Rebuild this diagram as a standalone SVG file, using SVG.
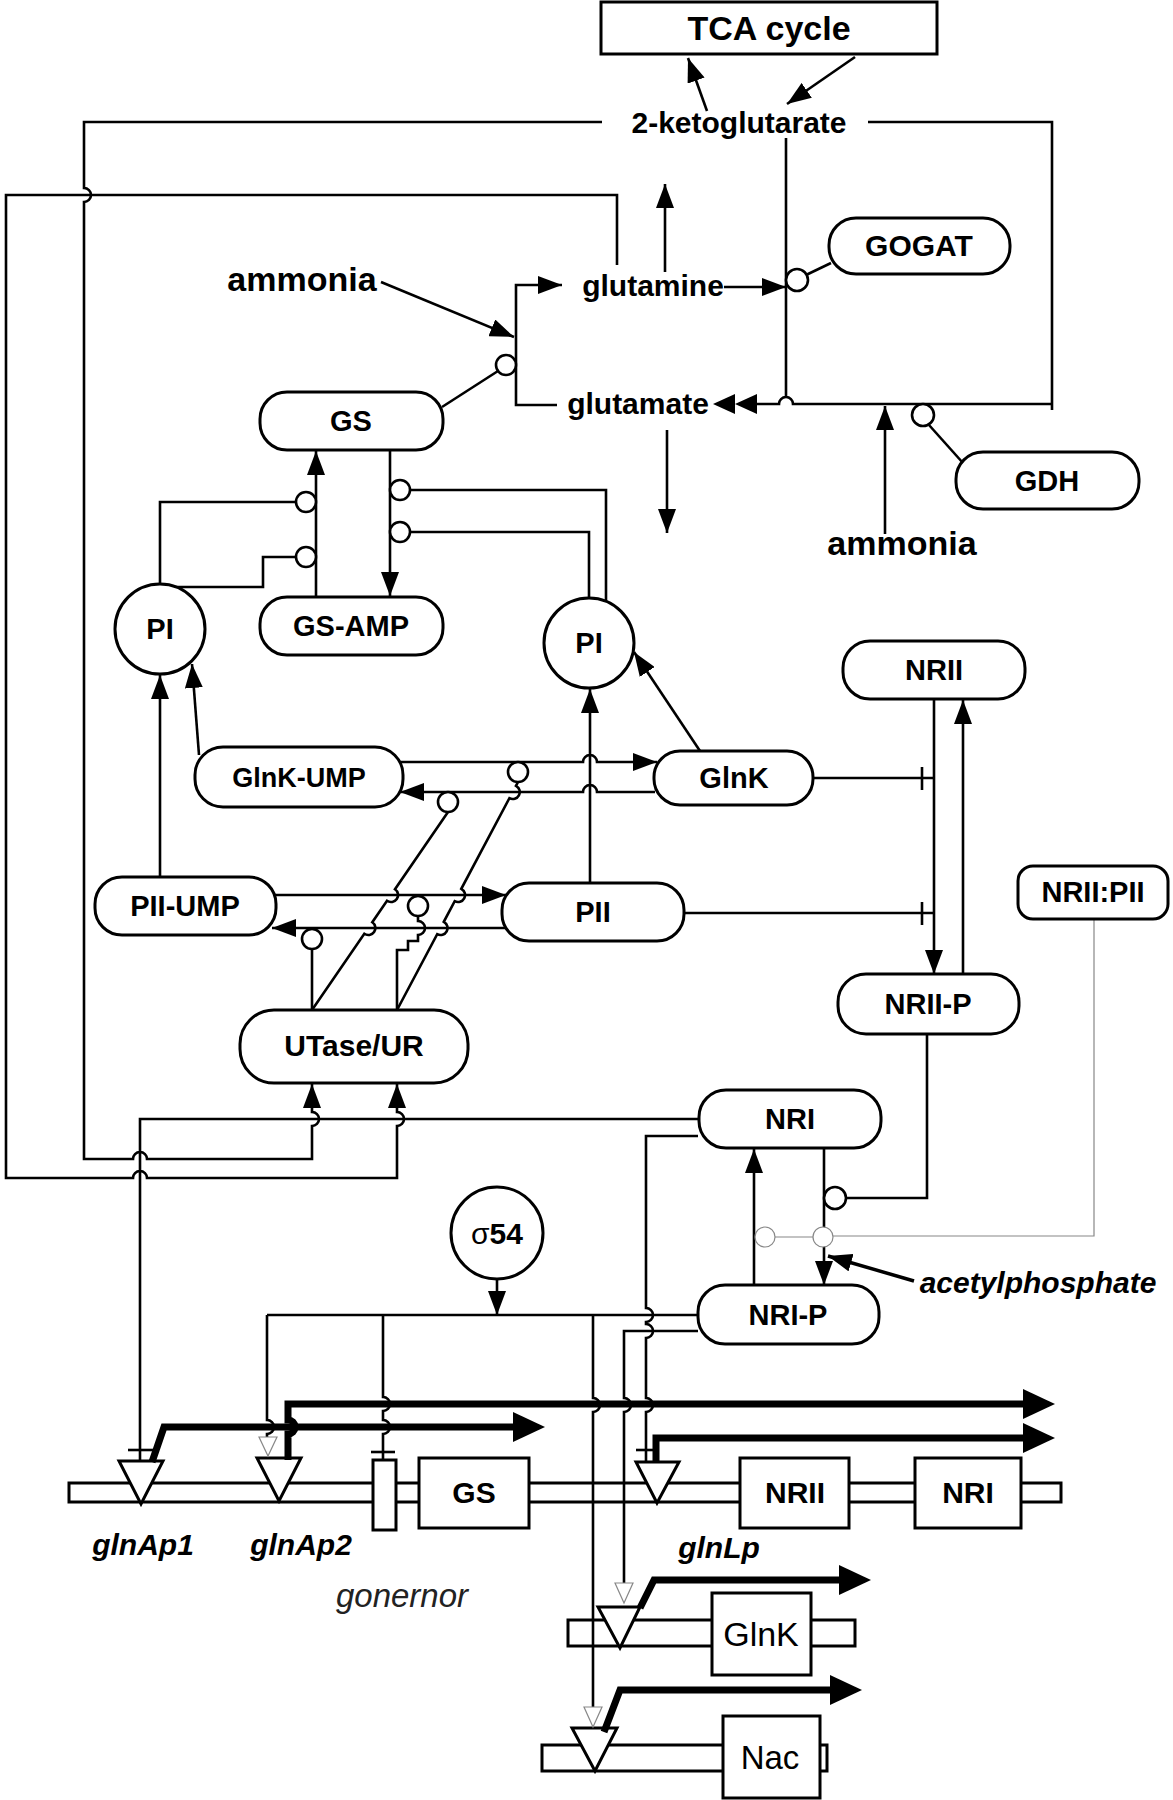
<svg xmlns="http://www.w3.org/2000/svg" width="1173" height="1800" viewBox="0 0 1173 1800">
<style>
.n{fill:#fff;stroke:#000;stroke-width:3}
.t{font-family:"Liberation Sans",Arial,sans-serif;font-weight:bold;font-size:29px;text-anchor:middle;fill:#000}
.r{font-family:"Liberation Sans",Arial,sans-serif;font-size:33px;text-anchor:middle;fill:#000}
.l{fill:none;stroke:#000;stroke-width:2.6}
.a{marker-end:url(#ah)}
.k{fill:none;stroke:#000;stroke-width:7;marker-end:url(#ak)}
.g{fill:#fff;stroke:#888;stroke-width:1.2}
.gl{fill:none;stroke:#888;stroke-width:1.2}
.c{fill:#fff;stroke:#000;stroke-width:2.6}
</style>
<defs>
<marker id="ah" viewBox="0 0 24 18" refX="24" refY="9" markerWidth="24" markerHeight="18" orient="auto" markerUnits="userSpaceOnUse"><path d="M0,0L24,9L0,18z"/></marker>
<marker id="ak" viewBox="0 0 32 30" refX="1" refY="15" markerWidth="32" markerHeight="30" orient="auto" markerUnits="userSpaceOnUse"><path d="M0,0L32,15L0,30z"/></marker>
</defs>
<rect width="1173" height="1800" fill="#fff"/>

<g id="genes">
<rect class="n" x="69" y="1483" width="992" height="19"/>
<rect class="n" x="373" y="1460" width="23" height="70"/>
<rect class="n" x="419" y="1458" width="110" height="70"/>
<text class="t" x="474" y="1503" style="font-size:30px">GS</text>
<rect class="n" x="740" y="1458" width="109" height="70"/>
<text class="t" x="795" y="1503" style="font-size:30px">NRII</text>
<rect class="n" x="915" y="1458" width="106" height="70"/>
<text class="t" x="968" y="1503" style="font-size:30px">NRI</text>
<polygon class="n" points="119,1461 163,1461 141,1504"/>
<polygon class="n" points="257,1458 301,1458 279,1501"/>
<polygon class="n" points="636,1462 679,1462 657,1503"/>
<rect class="n" x="568" y="1620" width="287" height="26"/>
<rect class="n" x="712" y="1593" width="99" height="82"/>
<text class="r" x="761" y="1646" style="font-size:34px">GlnK</text>
<polygon class="n" points="598,1607 640,1607 620,1648"/>
<rect class="n" x="542" y="1745" width="285" height="26"/>
<rect class="n" x="723" y="1716" width="97" height="82"/>
<text class="r" x="770" y="1769">Nac</text>
<polygon class="n" points="572,1728 617,1728 595,1771"/>
<text class="t" x="143" y="1555" style="font-size:30px;font-style:italic">glnAp1</text>
<text class="t" x="301" y="1555" style="font-size:30px;font-style:italic">glnAp2</text>
<text class="t" x="719" y="1558" style="font-size:30px;font-style:italic">glnLp</text>
<text class="r" x="402" y="1607" style="font-style:italic;fill:#222">gonernor</text>
</g>

<g id="connectors">
<path class="l a" d="M707,111 L688,58"/>
<path class="l a" d="M855,57 L787,104"/>
<path class="l" d="M868,122 H1052 V410"/>
<path class="l" d="M786,138 V397"/>
<path class="l" d="M1052,404 H793 A7,7 0 0 0 779,404 H757"/>
<polygon points="713,404 735,394 735,414"/>
<polygon points="735,404 757,394 757,414"/>
<path class="l a" d="M885,534 V406"/>
<path class="l" d="M929,425 L963,463"/>
<circle class="c" cx="923" cy="415" r="11"/>
<path class="l a" d="M724,287 H786"/>
<path class="l" d="M806,275 L831,263"/>
<circle class="c" cx="797" cy="280" r="11"/>
<path class="l a" d="M665,272 V184"/>
<path class="l a" d="M667,430 V533"/>
<path class="l a" d="M557,405 H516 V285 H562"/>
<path class="l a" d="M381,282 L514,337"/>
<path class="l" d="M442,407 L498,371"/>
<circle class="c" cx="506" cy="365" r="10"/>

<path class="l a" d="M602,122 H84 V188 A7,7 0 0 1 84,202 V1159 H133 A7,7 0 0 1 147,1159 H312 V1126 A7,7 0 0 0 312,1112 V1084"/>
<path class="l a" d="M617,265 V195 H6 V1178 H133 A7,7 0 0 1 147,1178 H397 V1126 A7,7 0 0 0 397,1112 V1084"/>

<path class="l a" d="M316,597 V451"/>
<path class="l a" d="M390,450 V596"/>
<path class="l" d="M160,584 V502 H296"/>
<path class="l" d="M174,587 H263 V557 H296"/>
<path class="l" d="M589,598 V532 H410"/>
<path class="l" d="M606,602 V490 H410"/>
<circle class="c" cx="306" cy="502" r="10"/>
<circle class="c" cx="306" cy="557" r="10"/>
<circle class="c" cx="400" cy="490" r="10"/>
<circle class="c" cx="400" cy="532" r="10"/>

<path class="l a" d="M160,877 V675"/>
<path class="l a" d="M199,755 L192,664"/>
<path class="l a" d="M700,751 L634,652"/>
<path class="l a" d="M590,883 V689"/>

<path class="l a" d="M398,762 H583 A7,7 0 0 1 597,762 H657"/>
<path class="l a" d="M655,792 H597 A7,7 0 0 0 583,792 H400"/>
<circle class="c" cx="518" cy="772" r="10"/>
<circle class="c" cx="448" cy="802" r="10"/>

<path class="l a" d="M274,895 H506"/>
<path class="l a" d="M506,928 H272"/>
<path class="l" d="M312,1010 V949"/>
<path class="l" d="M312,1010 L364.3,933.8 A7,7 0 0 0 372.3,922.2 L387,900.8 A7,7 0 0 0 395,889.2 L448,812"/>
<path class="l" d="M397,1010 V950 H408 V941 H418 V935 A7,7 0 0 0 418,921 V916"/>
<path class="l" d="M397,1010 L437.2,934.2 A7,7 0 0 0 443.8,921.8 L454.7,901.2 A7,7 0 0 0 461.3,888.8 L509.4,798.2 A7,7 0 0 0 516,785.8 L518,782"/>
<circle class="c" cx="418" cy="906" r="10"/>
<circle class="c" cx="312" cy="939" r="10"/>

<path class="l" d="M813,778 H934"/>
<path class="l" d="M922,767 V790"/>
<path class="l" d="M684,913 H934"/>
<path class="l" d="M922,902 V925"/>
<path class="l a" d="M934,699 V974"/>
<path class="l a" d="M963,974 V700"/>

<path class="gl" d="M1094,919 V1236 H833"/>
<path class="gl" d="M775,1237 H813"/>
<path class="l" d="M927,1034 V1198 H846"/>
<path class="l a" d="M824,1148 V1285"/>
<path class="l a" d="M754,1285 V1149"/>
<circle class="c" cx="835" cy="1198" r="11"/>
<circle class="g" cx="765" cy="1237" r="10"/>
<circle class="g" cx="823" cy="1237" r="10"/>
<path class="l a" d="M914,1281 L828,1256" style="stroke-width:3.5"/>

<path class="l" d="M698,1119 H140 V1461"/>
<path class="l" d="M128,1450 H154"/>
<path class="l a" d="M497,1279 V1315"/>
<path class="l" d="M267,1315 H697"/>
<path class="l" d="M267,1315 V1420 A7,7 0 0 1 267,1434 V1437"/>
<polygon class="g" points="259,1437 277,1437 268,1456"/>
<path class="l" d="M383,1315 V1397 A7,7 0 0 1 383,1411 V1420 A7,7 0 0 1 383,1434 V1460"/>
<path class="l" d="M371,1452 H395"/>
<path class="l" d="M593,1315 V1398 A7,7 0 0 1 593,1412 V1707"/>
<polygon class="g" points="584,1707 602,1707 593,1727"/>
<path class="l" d="M698,1136 H646 V1308 A7,7 0 0 1 646,1322 V1324 A7,7 0 0 1 646,1338 V1398 A7,7 0 0 1 646,1412 V1462"/>
<path class="l" d="M636,1450 H656"/>
<path class="l" d="M698,1331 H624 V1398 A7,7 0 0 1 624,1412 V1583"/>
<polygon class="g" points="615,1583 633,1583 624,1603"/>

<path class="k" d="M152,1462 L164,1427 H514"/>
<path class="k" d="M288,1460 V1434 A7,7 0 0 0 288,1420 V1404 H1024"/>
<path class="k" d="M656,1462 V1438 H1024"/>
<path class="k" d="M640,1608 L654,1580 H840"/>
<path class="k" d="M604,1732 L620,1690 H831"/>
</g>

<g id="tca"><rect class="n" x="601" y="2" width="336" height="52"/><text class="t" x="769" y="40" style="font-size:34px">TCA cycle</text></g>
<g id="ketoglutarate"><text class="t" x="739" y="133" style="font-size:30px">2-ketoglutarate</text></g>
<g id="glutamine"><text class="t" x="653" y="296" style="font-size:30px">glutamine</text></g>
<g id="glutamate"><text class="t" x="638" y="414" style="font-size:30px">glutamate</text></g>
<g id="ammonia1"><text class="t" x="302" y="291" style="font-size:34px">ammonia</text></g>
<g id="ammonia2"><text class="t" x="902" y="555" style="font-size:34px">ammonia</text></g>
<g id="acetylphosphate"><text class="t" x="1038" y="1293" style="font-size:30px;font-style:italic">acetylphosphate</text></g>

<g id="gogat"><rect class="n" x="829" y="218" width="181" height="56" rx="27"/><text class="t" x="919" y="256" style="font-size:30px">GOGAT</text></g>
<g id="gdh"><rect class="n" x="956" y="452" width="183" height="57" rx="27"/><text class="t" x="1047" y="491">GDH</text></g>
<g id="gs"><rect class="n" x="260" y="392" width="183" height="58" rx="27"/><text class="t" x="351" y="431">GS</text></g>
<g id="gsamp"><rect class="n" x="260" y="597" width="183" height="58" rx="27"/><text class="t" x="351" y="636">GS-AMP</text></g>
<g id="pi1"><circle class="n" cx="160" cy="629" r="45"/><text class="t" x="160" y="639">PI</text></g>
<g id="pi2"><circle class="n" cx="589" cy="643" r="45"/><text class="t" x="589" y="653">PI</text></g>
<g id="glnkump"><rect class="n" x="195" y="747" width="208" height="60" rx="28"/><text class="t" x="299" y="787" style="font-size:27px">GlnK-UMP</text></g>
<g id="glnk"><rect class="n" x="654" y="751" width="159" height="54" rx="26"/><text class="t" x="734" y="788">GlnK</text></g>
<g id="piiump"><rect class="n" x="95" y="877" width="181" height="58" rx="27"/><text class="t" x="185" y="916">PII-UMP</text></g>
<g id="pii"><rect class="n" x="502" y="883" width="182" height="58" rx="27"/><text class="t" x="593" y="922">PII</text></g>
<g id="utase"><rect class="n" x="240" y="1010" width="228" height="73" rx="34"/><text class="t" x="354" y="1056" style="font-size:30px">UTase/UR</text></g>
<g id="nrii"><rect class="n" x="843" y="641" width="182" height="58" rx="27"/><text class="t" x="934" y="680">NRII</text></g>
<g id="niip"><rect class="n" x="838" y="974" width="181" height="60" rx="28"/><text class="t" x="928" y="1014">NRII-P</text></g>
<g id="nriipii"><rect class="n" x="1018" y="866" width="150" height="53" rx="15"/><text class="t" x="1093" y="902">NRII:PII</text></g>
<g id="nri"><rect class="n" x="699" y="1090" width="182" height="58" rx="27"/><text class="t" x="790" y="1129">NRI</text></g>
<g id="nrip"><rect class="n" x="698" y="1285" width="181" height="59" rx="27"/><text class="t" x="788" y="1325">NRI-P</text></g>
<g id="sigma54"><circle class="n" cx="497" cy="1233" r="46"/><text class="t" x="497" y="1244" style="font-size:30px"><tspan style="font-weight:normal">σ</tspan>54</text></g>
</svg>
